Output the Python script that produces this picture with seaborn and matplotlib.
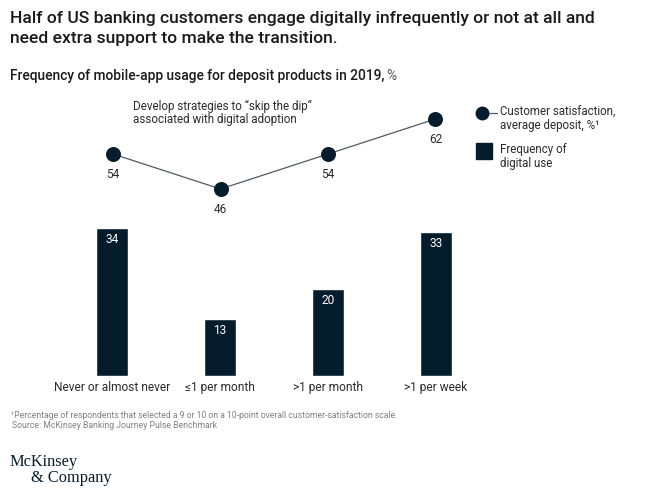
#!/usr/bin/env python3
import pandas as pd
import matplotlib
matplotlib.use('Agg')
import matplotlib.pyplot as plt
import seaborn as sns

# Values
categories = ['Never or almost never', '≤1 per month', '>1 per month', '>1 per week']
digital_use = [34, 13, 20, 33]
satisfaction = [54, 46, 54, 62]

NAVY = '#051c2c'
LINE = '#4f5b64'
W, H = 653, 492

sns.set_theme(style='white')
plt.rcParams['font.family'] = ['Roboto', 'DejaVu Sans']


def px_axes(fig, left, top, right, bottom):
    """Axes placed with pixel coordinates measured from the top left"""
    return fig.add_axes([left / W, 1 - bottom / H, (right - left) / W, (bottom - top) / H])


def label(fig, x, y, s, **kw):
    kw.setdefault('va', 'center')
    kw.setdefault('color', '#2b2b2b')
    return fig.text(x / W, 1 - y / H, s, **kw)


df = pd.DataFrame({'category': categories, 'use': digital_use, 'sat': satisfaction})
fig = plt.figure(figsize=(W / 100, H / 100), dpi=100, facecolor='white')

# Bars
ax = px_axes(fig, 58, 210, 490, 376)
sns.barplot(data=df, x='category', y='use', color=NAVY, width=0.305, saturation=1, ax=ax)
ax.set_xlim(-0.5, 3.5)
ax.set_ylim(0, 166 / 4.35)
ax.set_xlabel('')
ax.set_ylabel('')
ax.set_yticks([])
ax.tick_params(axis='x', length=0, pad=3.5, labelsize=8.6, labelcolor='#2b2b2b')
sns.despine(ax=ax, left=True, bottom=True)
for i, v in enumerate(digital_use):
    ax.annotate(str(v), (i, v), xytext=(0, -3.5), textcoords='offset points', ha='center', va='top',
                color='white', fontsize=8.6)

# Line, on its own slightly narrower axes
ax2 = px_axes(fig, 59.25, 100, 489.25, 210)
sns.lineplot(data=df, x=[0, 1, 2, 3], y='sat', color=LINE, linewidth=0.9, marker='o',
             markersize=10, markerfacecolor=NAVY, markeredgecolor=NAVY, ax=ax2)
ax2.set_xlim(-0.5, 3.5)
ax2.set_ylim(41.2, 66.34)
ax2.axis('off')
for i, v in enumerate(satisfaction):
    ax2.annotate(str(v), (i, v), xytext=(0, -10), textcoords='offset points', ha='center', va='top',
                 color='#2b2b2b', fontsize=8.6)

# Headings
label(fig, 10, 18, 'Half of US banking customers engage digitally infrequently or not at all and',
      fontsize=12.6, fontweight='medium', color='#1a1a1a')
label(fig, 10, 38, 'need extra support to make the transition.',
      fontsize=12.6, fontweight='medium', color='#1a1a1a')
label(fig, 10, 76, 'Frequency of mobile-app usage for deposit products in 2019,',
      fontsize=9.95, fontweight='medium', color='#1a1a1a')
label(fig, 386, 76, '%', fontsize=9.95, color='#555555')

# Callout
label(fig, 133, 106.5, 'Develop strategies to “skip the dip”', fontsize=8.4)
label(fig, 133, 119.5, 'associated with digital adoption', fontsize=8.4)

# Legend
legend = px_axes(fig, 470, 100, 653, 170)
legend.set_xlim(470, 653)
legend.set_ylim(170, 100)
legend.axis('off')
legend.plot([482, 497], [113, 113], color=LINE, lw=0.9)
legend.plot([482], [113], 'o', color=NAVY, ms=9)
legend.add_patch(plt.Rectangle((476, 143), 16, 16, color=NAVY))
label(fig, 500.5, 112, 'Customer satisfaction,', fontsize=8.3)
label(fig, 500.5, 125.5, 'average deposit, %¹', fontsize=8.3)
label(fig, 500.5, 150, 'Frequency of', fontsize=8.3)
label(fig, 500.5, 163.5, 'digital use', fontsize=8.3)

# Footnotes
label(fig, 11, 415, '¹Percentage of respondents that selected a 9 or 10 on a 10-point overall customer-satisfaction scale.',
      fontsize=6.2, color='#808080')
label(fig, 12.5, 425, 'Source: McKinsey Banking Journey Pulse Benchmark', fontsize=6.2, color='#808080')

# Logo
label(fig, 10, 462, 'McKinsey', fontsize=11.8, family='Liberation Serif', color=NAVY)
label(fig, 31, 478, '& Company', fontsize=11.8, family='Liberation Serif', color=NAVY)

fig.savefig('out.png', dpi=100, facecolor='white')
plt.close(fig)
